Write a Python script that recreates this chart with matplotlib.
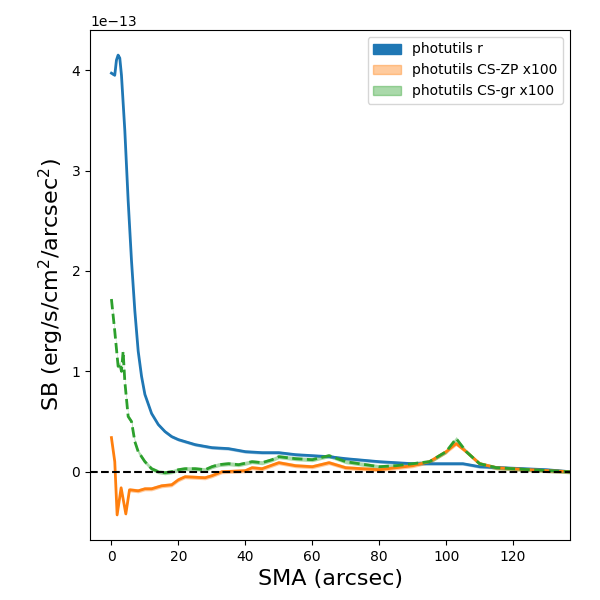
import numpy as np
import matplotlib
matplotlib.use('Agg')
import matplotlib.pyplot as plt
import matplotlib.patches as mpatches

# values in units of 1e-13 erg/s/cm^2/arcsec^2
sma_r = [0, 1, 1.5, 2, 2.5, 3, 4, 5, 6, 7, 8, 9, 10, 12, 14, 16, 18, 20, 25, 30, 35, 40,
         45, 50, 55, 60, 65, 70, 80, 90, 100, 105, 110, 120, 130, 137]
sb_r = [3.97, 3.95, 4.1, 4.15, 4.12, 3.95, 3.4, 2.7, 2.1, 1.6, 1.2, 0.95, 0.77, 0.58, 0.47,
        0.40, 0.35, 0.32, 0.27, 0.24, 0.23, 0.20, 0.19, 0.19, 0.17, 0.16, 0.15, 0.13, 0.10,
        0.08, 0.08, 0.08, 0.05, 0.035, 0.02, 0.0]

sma_zp = [0, 1, 1.7, 2.9, 4.3, 5.4, 8, 10, 12, 15, 18, 20, 22, 28, 30, 33, 40, 42, 45, 50,
          55, 60, 65, 70, 80, 85, 90, 95, 100, 103, 106, 110, 115, 125, 137]
sb_zp = [0.34, 0.1, -0.43, -0.16, -0.42, -0.18, -0.19, -0.17, -0.17, -0.14, -0.13, -0.08,
         -0.05, -0.06, -0.04, 0.0, 0.01, 0.04, 0.03, 0.09, 0.06, 0.05, 0.09, 0.04, 0.02, 0.04,
         0.06, 0.10, 0.20, 0.28, 0.20, 0.08, 0.04, 0.02, 0.0]

sma_gr = [0, 1, 2, 2.5, 3, 3.5, 4, 5, 6, 7, 8, 9, 10, 12, 14, 16, 18, 20, 22, 25, 28, 30,
          32, 35, 38, 42, 45, 48, 50, 55, 60, 65, 70, 80, 85, 90, 95, 100, 103, 106, 110,
          115, 125, 137]
sb_gr = [1.72, 1.4, 1.05, 1.08, 1.0, 1.2, 0.9, 0.55, 0.5, 0.3, 0.2, 0.15, 0.1, 0.03, 0.0,
         -0.01, 0.0, 0.02, 0.03, 0.03, 0.02, 0.05, 0.07, 0.08, 0.07, 0.10, 0.09, 0.12, 0.15,
         0.13, 0.12, 0.16, 0.10, 0.05, 0.06, 0.08, 0.10, 0.20, 0.33, 0.20, 0.08, 0.04, 0.02, 0.0]

scale = 1e-13
fig = plt.figure(figsize=(6, 6), dpi=100)
ax = fig.add_axes([0.15, 0.1, 0.8, 0.85])

def band(x, y, color, ls, err):
    x = np.array(x)
    y = np.array(y) * scale
    ax.fill_between(x, y - err * scale, y + err * scale, color=color, alpha=0.4, lw=0)
    ax.plot(x, y, color=color, ls=ls, lw=2)

band(sma_r, sb_r, 'C0', '-', 0.015)
band(sma_zp, sb_zp, 'C1', '-', 0.02)
band(sma_gr, sb_gr, 'C2', '--', 0.02)
ax.axhline(0, color='k', ls='--', lw=1.5)

handles = [mpatches.Patch(color='C0', label='photutils r'),
           mpatches.Patch(color='C1', alpha=0.4, label='photutils CS-ZP x100'),
           mpatches.Patch(color='C2', alpha=0.4, label='photutils CS-gr x100')]
ax.legend(handles=handles, loc='upper right')

ax.set_xlim(-6.4, 137)
ax.set_ylim(-0.68e-13, 4.4e-13)
ax.set_xlabel('SMA (arcsec)', fontsize=16)
ax.set_ylabel(r'SB (erg/s/cm$^2$/arcsec$^2$)', fontsize=16)
plt.savefig('out.png')
